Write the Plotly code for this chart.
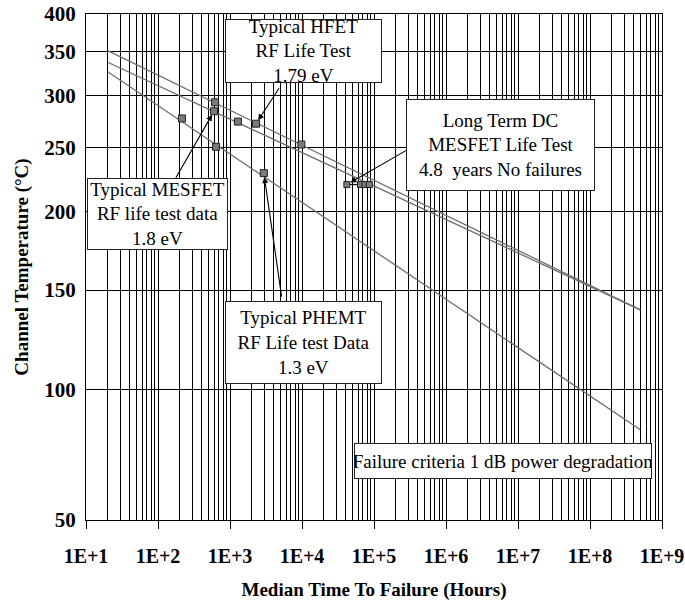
import math
import plotly.graph_objects as go

# ---------------- data ----------------
# fitted Arrhenius lines (hours, channel temperature degC)
fit_t = [20, 5e8]
hfet_fit_T = [351, 139]
mesfet_fit_T = [337, 139]
phemt_fit_T = [326, 83]

# measured points
hfet_t = [620, 2300, 9800]
hfet_T = [293, 272, 253]
mesfet_t = [600, 1290]
mesfet_T = [284, 274]
phemt_t = [215, 640, 2950]
phemt_T = [277, 251, 229]
dc_t = [4.2e4, 6.5e4, 7.5e4, 8.6e4]
dc_T = [220, 220, 220, 220]

x_tick_vals = [1e1, 1e2, 1e3, 1e4, 1e5, 1e6, 1e7, 1e8, 1e9]
x_tick_text = ["1E+1", "1E+2", "1E+3", "1E+4", "1E+5", "1E+6", "1E+7", "1E+8", "1E+9"]
y_tick_labels = [50, 100, 150, 200, 250, 300, 350, 400]


def inv(T):
    # Arrhenius scale: reciprocal absolute temperature
    return 1000.0 / (T + 273.15)


def inv_list(vals):
    return [inv(v) for v in vals]


SERIF = "Liberation Serif"
LINE_GREY = "#6e6e6e"

fig = go.Figure()

for T in (hfet_fit_T, mesfet_fit_T, phemt_fit_T):
    fig.add_trace(go.Scatter(x=fit_t, y=inv_list(T), mode="lines",
                             line=dict(color=LINE_GREY, width=1.3),
                             hoverinfo="skip", showlegend=False))

fig.add_trace(go.Scatter(x=dc_t, y=inv_list(dc_T), mode="lines+markers",
                         line=dict(color="#111111", width=1.2),
                         marker=dict(symbol="square", size=6, color="#7a7a7a",
                                     line=dict(color="#222222", width=1)),
                         showlegend=False))

for t, T in ((hfet_t, hfet_T), (mesfet_t, mesfet_T), (phemt_t, phemt_T)):
    fig.add_trace(go.Scatter(x=t, y=inv_list(T), mode="markers",
                             marker=dict(symbol="square", size=7, color="#7a7a7a",
                                         line=dict(color="#222222", width=1)),
                             showlegend=False))

minor_vals = [m * 10 ** k for k in range(1, 9) for m in range(2, 10)]

fig.update_xaxes(
    type="log", range=[1, 9], automargin=False, ticklabeloverflow="allow",
    tickvals=x_tick_vals, ticktext=x_tick_text,
    ticks="outside", ticklen=8, tickcolor="black", tickwidth=1,
    showgrid=True, gridcolor="black", gridwidth=1,
    minor=dict(tickvals=minor_vals, showgrid=True, gridcolor="black", gridwidth=1, ticks=""),
    showline=True, linecolor="black", linewidth=1, mirror=True,
    tickfont=dict(family=SERIF, size=20, color="black", weight="bold"),
    ticklabelstandoff=10,
    title=dict(text="Median Time To Failure (Hours)",
               font=dict(family=SERIF, size=19, color="black", weight="bold"),
               standoff=16),
    zeroline=False,
)

fig.update_yaxes(
    range=[inv(50), inv(400)], automargin=False, ticklabeloverflow="allow",
    tickvals=inv_list(y_tick_labels), ticktext=[str(v) for v in y_tick_labels],
    ticks="", showgrid=True, gridcolor="black", gridwidth=1,
    showline=True, linecolor="black", linewidth=1, mirror=True,
    tickfont=dict(family=SERIF, size=21, color="black", weight="bold"),
    ticklabelstandoff=5,
    title=dict(text="Channel Temperature (°C)",
               font=dict(family=SERIF, size=19, color="black", weight="bold"),
               standoff=10),
    zeroline=False,
)

W, H = 685, 602
L, R, T_, B = 86, 23, 14, 82
PW, PH = W - L - R, H - T_ - B


def px(x):
    return (x - L) / PW


def py(y):
    return (H - B - y) / PH


def box(text, left, top, w, h):
    fig.add_annotation(text=text, xref="paper", yref="paper",
                       x=px(left), y=py(top), xanchor="left", yanchor="top",
                       width=w, height=h, showarrow=False, align="center",
                       valign="middle", bgcolor="white", bordercolor="#222222",
                       borderwidth=1, borderpad=0,
                       font=dict(family=SERIF, size=19, color="black"))


box("Typical HFET<br>RF Life Test<br>1.79 eV", 225, 19, 155, 62)
box("Typical MESFET<br>RF life test data<br>1.8 eV", 87, 178, 139, 70)
box("Long Term DC<br>MESFET Life Test<br>4.8  years No failures", 406, 99, 187, 90)
box("Typical PHEMT<br>RF Life test Data<br>1.3 eV", 225, 301, 155, 81)
box("Failure criteria 1 dB power degradation", 354, 443, 296, 34)


def arrow(t, T, ax, ay):
    fig.add_annotation(x=math.log10(t), y=inv(T), xref="x", yref="y",
                       ax=ax, ay=ay, axref="pixel", ayref="pixel", text="",
                       showarrow=True, arrowhead=2, arrowsize=1.1, arrowwidth=1.1,
                       arrowcolor="black", standoff=4)


arrow(hfet_t[1], hfet_T[1], 24, -37)
arrow(mesfet_t[0], mesfet_T[0], -39, 68)
arrow(dc_t[0], dc_T[0], 61, -35)
arrow(phemt_t[2], phemt_T[2], 18, 125)

fig.update_layout(
    width=W, height=H,
    margin=dict(l=L, r=R, t=T_, b=B),
    plot_bgcolor="white", paper_bgcolor="white",
    showlegend=False,
)

fig.write_html("out.html", config={"displayModeBar": False},
               post_script="document.body.style.margin='0';document.body.style.overflow='hidden';")
